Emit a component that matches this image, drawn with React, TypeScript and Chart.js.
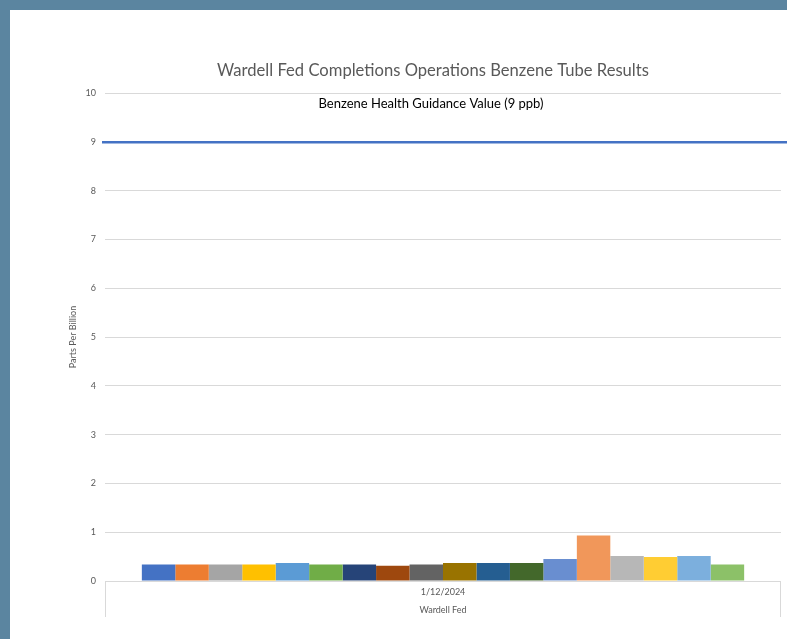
import React, { useEffect, useRef } from "react";
import { Chart, registerables } from "chart.js";

Chart.register(...registerables);

const TITLE = "Wardell Fed Completions Operations Benzene Tube Results";
const Y_AXIS_TITLE = "Parts Per Billion";
const CATEGORY_LABELS = [["1/12/2024", "Wardell Fed"]];
const SAMPLE_VALUES = [0.34, 0.34, 0.34, 0.34, 0.37, 0.34, 0.34, 0.31, 0.34, 0.37, 0.37, 0.37, 0.45, 0.93, 0.51, 0.49, 0.51, 0.34];
const SAMPLE_COLORS = [
  "#4472C4", "#ED7D31", "#A5A5A5", "#FFC000", "#5B9BD5", "#70AD47",
  "#264478", "#9E480E", "#636363", "#997300", "#255E91", "#43682B",
  "#698ED0", "#F1975A", "#B7B7B7", "#FFCD33", "#7CAFDD", "#8CC168",
];
const GUIDANCE_VALUE = 9;
const GUIDANCE_LABEL = "Benzene Health Guidance Value (9 ppb)";
const GUIDANCE_LABEL_VALUE = 9.77;
const Y_MIN = 0;
const Y_MAX = 10;
const Y_STEP = 1;

const FONT = "Lato, 'Open Sans', sans-serif";

const guidancePlugin = {
  id: "guidance",
  afterDraw(chart: any) {
    const { ctx, chartArea } = chart;
    ctx.save();
    ctx.fillStyle = "#595959";
    ctx.font = `16.6px ${FONT}`;
    ctx.textAlign = "center";
    ctx.textBaseline = "middle";
    ctx.fillText(TITLE, (chartArea.left + chartArea.right) / 2 - 10, chartArea.top - 22);
    ctx.restore();
  },
  afterDatasetsDraw(chart: any) {
    const { ctx, chartArea, scales } = chart;
    const y = scales.y.getPixelForValue(GUIDANCE_VALUE);
    ctx.save();
    ctx.strokeStyle = "#4472C4";
    ctx.lineWidth = 2.5;
    ctx.beginPath();
    ctx.moveTo(chartArea.left - 3, y + 0.5);
    ctx.lineTo(chart.width, y + 0.5);
    ctx.stroke();
    const ly = scales.y.getPixelForValue(GUIDANCE_LABEL_VALUE);
    ctx.fillStyle = "#000000";
    ctx.font = `13px ${FONT}`;
    ctx.textAlign = "center";
    ctx.textBaseline = "middle";
    ctx.fillText(GUIDANCE_LABEL, (chartArea.left + chartArea.right) / 2 - 12, ly);
    // category box below axis
    const xs = scales.x;
    ctx.strokeStyle = "#D9D9D9";
    ctx.lineWidth = 1;
    ctx.beginPath();
    ctx.moveTo(Math.round(xs.left) + 0.5, chartArea.bottom);
    ctx.lineTo(Math.round(xs.left) + 0.5, chartArea.bottom + 36);
    ctx.moveTo(Math.round(xs.right) - 0.5, chartArea.bottom);
    ctx.lineTo(Math.round(xs.right) - 0.5, chartArea.bottom + 36);
    ctx.stroke();
    ctx.restore();
  },
};

export default function App() {
  const ref = useRef<HTMLCanvasElement | null>(null);
  useEffect(() => {
    document.body.style.margin = "0";
    const canvas = ref.current!;
    const chart = new Chart(canvas, {
      type: "bar",
      data: {
        labels: CATEGORY_LABELS as any,
        datasets: SAMPLE_VALUES.map((v, i) => ({
          label: `Sample ${i + 1}`,
          data: [v],
          backgroundColor: SAMPLE_COLORS[i],
          borderWidth: 0,
          barPercentage: 1,
          categoryPercentage: 0.891,
        })),
      },
      options: {
        animation: false,
        responsive: false,
        maintainAspectRatio: false,
        layout: { padding: { left: 0, right: 6, top: 83, bottom: 0 } },
        plugins: {
          legend: { display: false },
          tooltip: { enabled: false },
          title: { display: false },
        },
        scales: {
          x: {
            grid: { display: false },
            border: { display: false },
            ticks: {
              color: "#595959",
              font: { family: FONT, size: 9, lineHeight: 1.9 },
              padding: -5,
              maxRotation: 0,
            },
            afterFit(scale: any) {
              scale.height = 58;
            },
          },
          y: {
            min: Y_MIN,
            max: Y_MAX,
            ticks: {
              stepSize: Y_STEP,
              color: "#595959",
              font: { family: FONT, size: 9 },
              padding: 9,
            },
            grid: { color: "#D9D9D9", lineWidth: 1, drawTicks: false },
            border: { display: false },
            title: {
              display: true,
              text: Y_AXIS_TITLE,
              color: "#595959",
              font: { family: FONT, size: 9 },
              padding: { top: 58, bottom: 0 },
            },
            afterFit(scale: any) {
              scale.width = 95;
            },
          },
        },
      },
      plugins: [guidancePlugin],
    });
    return () => chart.destroy();
  }, []);

  return (
    <div style={{ position: "fixed", left: 0, top: 0, width: 787, height: 639, background: "#5B85A0", overflow: "hidden" }}>
      <div style={{ position: "absolute", left: 10, top: 10, width: 777, height: 629, background: "#FFFFFF" }}>
        <canvas ref={ref} width={777} height={629} style={{ display: "block", width: 777, height: 629 }} />
      </div>
    </div>
  );
}
